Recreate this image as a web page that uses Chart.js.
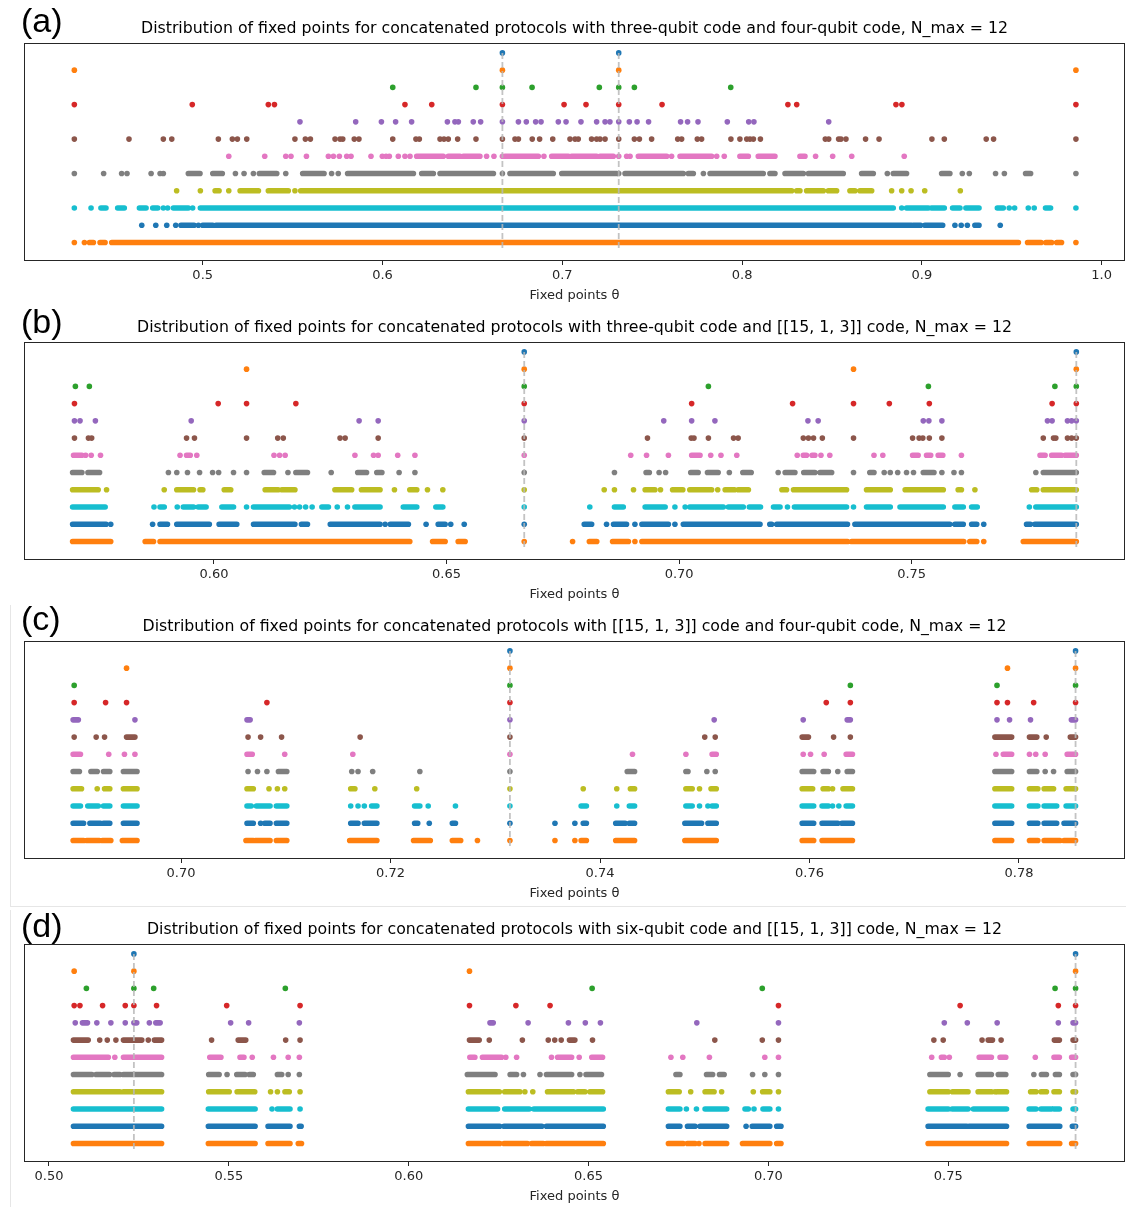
<!DOCTYPE html>
<html>
<head>
<meta charset="utf-8">
<script src="https://cdn.jsdelivr.net/npm/chart.js@4.4.0/dist/chart.umd.min.js"></script>
<style>
  body { margin: 0; background: #fff; width: 1126px; height: 1207px; position: relative; overflow: hidden; }
  canvas { position: absolute; left: 0; }
  .edge { position: absolute; background: #e6e6e6; }
</style>
</head>
<body>
<div class="edge" style="left:1126px; top:0; width:1px; height:907px"></div>
<div class="edge" style="left:10px; top:906px; width:1117px; height:1px"></div>
<div class="edge" style="left:10px; top:605px; width:1px; height:302px"></div>
<div class="edge" style="left:10px; top:910px; width:1px; height:297px"></div>
<canvas id="chart-a" width="1126" height="306" style="top:0px"></canvas>
<canvas id="chart-b" width="1126" height="306" style="top:299px"></canvas>
<canvas id="chart-c" width="1126" height="306" style="top:598px"></canvas>
<canvas id="chart-d" width="1126" height="306" style="top:901px"></canvas>
<script>
// tab10 colours, one per level N = 1..12 (top row is N = 1)
const levelColors = ["#1f77b4", "#ff7f0e", "#2ca02c", "#d62728", "#9467bd", "#8c564b",
  "#e377c2", "#7f7f7f", "#bcbd22", "#17becf", "#1f77b4", "#ff7f0e"];

const titles = [
  "Distribution of fixed points for concatenated protocols with three-qubit code and four-qubit code, N_max = 12",
  "Distribution of fixed points for concatenated protocols with three-qubit code and [[15, 1, 3]] code, N_max = 12",
  "Distribution of fixed points for concatenated protocols with [[15, 1, 3]] code and four-qubit code, N_max = 12",
  "Distribution of fixed points for concatenated protocols with six-qubit code and [[15, 1, 3]] code, N_max = 12",
];
const tags = ["(a)", "(b)", "(c)", "(d)"];

const xTicksA = [0.5, 0.6, 0.7, 0.8, 0.9, 1.0];
const xTicksB = [0.60, 0.65, 0.70, 0.75];
const xTicksC = [0.70, 0.72, 0.74, 0.76, 0.78];
const xTicksD = [0.50, 0.55, 0.60, 0.65, 0.70, 0.75];

// fixed points of the single codes (dashed lines)
const codeLinesA = [0.6667, 0.7314];
const codeLinesB = [0.6667, 0.7854];
const codeLinesC = [0.7314, 0.7854];
const codeLinesD = [0.5236, 0.7854];

// one list per level; a number is a single fixed point, [a, b] is a run of points too dense to separate
const rowsA = [
  [0.6667, 0.7314],
  [0.4286, 0.6667, 0.7314, 0.9857],
  [0.6057, 0.652, 0.6667, 0.6832, 0.7206, 0.7314, 0.7401, 0.7937],
  [0.4286, 0.4942, 0.5365, 0.5399, 0.6125, 0.6274, 0.6667, 0.701, 0.7132, 0.7314, 0.7555, 0.8255, 0.8304, 0.8856, 0.8889, 0.9857],
  [0.5541, 0.5851, 0.5994, 0.6073, 0.6162, 0.6361, 0.6403, 0.6422, 0.6505, 0.6546, 0.6667, 0.6756, 0.68, 0.6852, 0.6882, 0.6978,
    0.7021, 0.7104, 0.7191, 0.7238, 0.7265, 0.7314, 0.7373, 0.7416, 0.748, 0.7658, 0.7697, 0.7755, 0.7918, 0.8037, 0.8066, 0.8482],
  [0.4286, 0.459, 0.4781, 0.4828, 0.5087, 0.5165, 0.5193, 0.5245, 0.5513, 0.5571, 0.5599, 0.5736, 0.5764, 0.5779, 0.5843, 0.5869,
    0.6057, 0.6186, 0.6205, 0.632, 0.6342, 0.6366, 0.6418, 0.652, 0.6667, 0.6737, 0.6756, 0.6833, 0.6874, 0.6947, 0.7043, 0.7071,
    0.7089, 0.7163, 0.7191, 0.721, 0.7238, 0.7314, 0.7401, 0.7429, 0.7497, 0.7642, 0.7664, 0.7751, 0.7775, 0.7938, 0.7988, 0.8026,
    0.8044, 0.8063, 0.8102, 0.8463, 0.8482, 0.8537, 0.855, 0.8578, 0.8687, 0.8762, 0.9056, 0.9125, 0.9358, 0.9399, 0.9857],
  [0.5145, 0.5345, 0.5462, 0.5491, 0.5577, 0.5699, 0.5727, 0.576, 0.5801, 0.5825, 0.5936, 0.5999, 0.602, 0.6038, 0.6088, 0.6125,
    0.6153, [0.619, 0.6338], [0.6366, 0.6431], [0.645, 0.6542], 0.6579, 0.662, 0.6667, [0.6681, 0.6867], 0.6898, [0.6941, 0.7034],
    [0.7052, 0.7191], [0.721, 0.7284], 0.7314, 0.7358, 0.7377, [0.7423, 0.7581], 0.7608, [0.7655, 0.7831], 0.7859, 0.7901,
    [0.7988, 0.8035], [0.809, 0.8183], [0.8322, 0.835], 0.8409, 0.8504, 0.861, 0.8902],
  [0.4286, 0.4449, 0.4549, 0.4579, 0.4713, 0.4763, 0.4781, [0.492, 0.4985], [0.5056, 0.5109], 0.5182, 0.523, 0.5282,
    [0.5315, 0.5412], 0.5462, [0.5556, 0.5675], 0.5717, 0.5754, [0.5806, 0.6172], [0.6218, 0.6283], [0.632, 0.6617], 0.6667,
    [0.6709, 0.695], [0.6997, 0.7302], 0.7314, [0.7349, 0.7673], [0.7701, 0.7729], 0.7785, [0.7822, 0.8118], [0.8155, 0.8183],
    [0.8239, 0.8341], [0.8369, 0.8563], [0.8665, 0.873], 0.8808, [0.8841, 0.8915], [0.911, 0.9156], 0.9225, 0.9264, 0.941,
    0.9459, [0.9577, 0.9605], 0.9857],
  [0.4855, 0.4987, [0.5069, 0.5091], 0.5145, [0.5208, 0.531], [0.5365, 0.5476], 0.5513, [0.5545, 0.8276], [0.8304, 0.8322],
    [0.8359, 0.8452], [0.848, 0.8526], [0.86, 0.8628], [0.8656, 0.8721], 0.8832, 0.8888, 0.894, 0.9016, 0.9214],
  [0.4286, 0.4379, [0.4434, 0.4462], [0.4527, 0.4564], [0.4648, 0.4685], [0.4722, 0.475], 0.4781, 0.4805, [0.4837, 0.492],
    0.4944, [0.4987, 0.8841], 0.8888, [0.8915, 0.9036], [0.9054, 0.9125], [0.9171, 0.9212], [0.9245, 0.9318], [0.942, 0.9453],
    0.9486, 0.9516, 0.9592, 0.9625, [0.9688, 0.9716], 0.9857],
  [0.4661, 0.4739, 0.48, 0.485, [0.4879, 0.4952], 0.4976, [0.5, 0.5056], [0.5074, 0.8943], [0.8952, 0.8993], [0.9017, 0.9116],
    0.9184, 0.9219, 0.9253, [0.9295, 0.9318], 0.9436],
  [0.4286, 0.4342, [0.437, 0.4392], [0.4429, 0.4457], [0.4494, 0.9537], [0.9588, 0.9663], [0.969, 0.9722], [0.975, 0.9777], 0.9857],
];

const rowsB = [
  [0.6667, 0.7854],
  [0.607, 0.6667, 0.7375, 0.7854],
  [0.5702, 0.5732, 0.6667, 0.7063, 0.7536, 0.7808, 0.7854],
  [0.57, 0.6009, 0.607, 0.6176, 0.6667, 0.7027, 0.7244, 0.7375, 0.7452, 0.7538, 0.7802, 0.7854],
  [0.57, 0.5712, 0.5745, 0.5951, 0.6312, 0.6353, 0.6667, 0.6967, 0.7027, 0.7077, 0.7277, 0.7299, 0.7525, 0.7537, 0.7565,
    0.7792, 0.7802, 0.7835, 0.7844, 0.7854],
  [0.57, 0.573, 0.5737, 0.5941, 0.5958, 0.607, 0.6137, 0.6149, 0.6271, 0.6282, 0.6353, 0.6667, 0.6932, 0.7026, 0.7032, 0.7063,
    0.7117, 0.7127, 0.7267, 0.7278, 0.7289, 0.7308, 0.7375, 0.7502, 0.7516, 0.7524, 0.7538, 0.7565, 0.7783, 0.7805, 0.781,
    0.7835, 0.7844, 0.7854],
  [[0.5698, 0.5716], 0.5724, 0.5736, 0.5756, 0.5927, [0.5941, 0.5949], 0.5963, 0.6129, 0.6141, 0.6153, 0.6303, 0.6343, 0.6353,
    0.6395, 0.6432, 0.6667, 0.6896, 0.693, 0.6977, [0.7027, 0.7045], 0.7068, 0.709, 0.7124, 0.7254, [0.7267, 0.7274],
    [0.7286, 0.7292], 0.7305, 0.7324, 0.7419, 0.7438, [0.7502, 0.7514], [0.7532, 0.7541], [0.7557, 0.7567], 0.7607,
    [0.7776, 0.7787], [0.7801, 0.7822], [0.783, 0.7854]],
  [[0.5696, 0.5716], [0.5729, 0.5754], 0.5902, 0.592, 0.5943, 0.5969, 0.5997, 0.601, 0.6042, 0.607, [0.6108, 0.6128], 0.6159,
    [0.6176, 0.6201], 0.6252, [0.6309, 0.6328], [0.635, 0.6361], 0.6398, 0.6432, 0.6667, 0.6861, [0.6929, 0.6936], 0.6957,
    0.6971, [0.7025, 0.7041], [0.7061, 0.7084], 0.7108, [0.7137, 0.7155], 0.7213, [0.7228, 0.7249], [0.7268, 0.7292],
    [0.7303, 0.7328], 0.7375, [0.741, 0.7419], 0.7441, 0.7454, 0.747, 0.7489, 0.7504, [0.7525, 0.7548], 0.7565, 0.7591,
    0.7607, 0.7767, [0.7783, 0.7854]],
  [[0.5696, 0.5751], 0.5769, 0.5893, [0.592, 0.5956], [0.597, 0.5976], [0.6022, 0.6036], [0.611, 0.6138], [0.6146, 0.6174],
    [0.626, 0.6296], [0.6317, 0.6357], 0.6388, [0.6421, 0.6436], 0.6459, 0.6492, 0.6667, 0.6839, 0.6861, 0.6902,
    [0.6927, 0.6948], 0.696, [0.6986, 0.7008], [0.7023, 0.707], 0.7083, [0.7099, 0.7119], [0.7127, 0.7149], [0.7221, 0.7231],
    [0.7246, 0.736], [0.7403, 0.7454], [0.7486, 0.7568], [0.76, 0.7607], 0.7636, [0.7758, 0.7769], [0.7783, 0.7854]],
  [[0.5696, 0.5766], 0.5871, [0.5884, 0.5893], 0.5921, [0.5934, 0.5956], [0.5966, 0.5983], [0.6017, 0.6042], 0.607,
    [0.6085, 0.6162], 0.6173, 0.6184, 0.6197, 0.6211, [0.6232, 0.6246], 0.6265, 0.6287, [0.6303, 0.6357], [0.6407, 0.6436],
    [0.6477, 0.6492], 0.6667, 0.6808, [0.6861, 0.688], [0.6927, 0.697], 0.6991, 0.7013, [0.7023, 0.7095], [0.7106, 0.7138],
    [0.7151, 0.7175], [0.7203, 0.7217], 0.7233, [0.7248, 0.736], 0.7375, [0.7403, 0.7454], [0.7475, 0.7568], [0.7593, 0.7611],
    [0.7629, 0.7641], 0.7753, [0.7767, 0.7854]],
  [[0.5696, 0.5768], 0.5778, 0.5868, [0.5884, 0.59], [0.592, 0.599], [0.6011, 0.6049], [0.6085, 0.6174], [0.6188, 0.6201],
    [0.625, 0.6357], 0.6368, [0.6379, 0.6418], 0.6456, [0.6482, 0.6497], 0.6509, 0.6538, 0.6667, [0.6796, 0.6812], 0.6844,
    [0.6859, 0.6887], 0.6905, [0.692, 0.6977], 0.6991, [0.7009, 0.7174], [0.7195, 0.7199], [0.721, 0.7362], [0.7378, 0.7582],
    [0.7593, 0.7611], [0.7629, 0.764], 0.7655, [0.7747, 0.7755], [0.7765, 0.7854]],
  [[0.5696, 0.5778], [0.5852, 0.587], [0.5884, 0.6421], [0.647, 0.6497], [0.6525, 0.654], 0.6667, 0.6771, [0.6807, 0.6823],
    [0.6857, 0.6891], 0.6905, [0.692, 0.7362], [0.7371, 0.7612], [0.7625, 0.764], 0.7655, [0.774, 0.7854]],
];

const rowsC = [
  [0.7314, 0.7854],
  [0.6948, 0.7314, 0.7789, 0.7854],
  [0.6898, 0.7314, 0.7639, 0.7779, 0.7854],
  [0.6898, 0.6928, 0.6948, 0.7082, 0.7314, 0.7616, 0.7639, 0.7779, 0.7789, 0.7814, 0.7854],
  [[0.6897, 0.6902], 0.6956, [0.7063, 0.7066], 0.7314, 0.7509, 0.7594, [0.7636, 0.7639], 0.7779, 0.7791, 0.7811, [0.785, 0.7854]],
  [0.6898, 0.6919, 0.6927, [0.6948, 0.6956], 0.7064, 0.7076, 0.7096, 0.7171, 0.7314, 0.75, 0.751, [0.7593, 0.7599], 0.7623,
    0.7639, [0.7777, 0.7793], [0.781, 0.7817], 0.7826, [0.7849, 0.7854]],
  [[0.6897, 0.6904], 0.6931, 0.6946, 0.6956, [0.7063, 0.7068], 0.7099, 0.7164, 0.7314, 0.7431, 0.7482, [0.7507, 0.7511], 0.7594,
    0.7601, 0.7614, [0.7635, 0.7641], 0.7778, [0.7785, 0.7793], 0.781, 0.7816, 0.7825, [0.7846, 0.7854]],
  [[0.6897, 0.6903], [0.6914, 0.692], [0.6926, 0.6932], [0.6945, 0.6958], 0.7064, 0.7073, 0.7082, [0.7093, 0.7101], 0.7163,
    0.7169, 0.7183, 0.7228, 0.7314, [0.7426, 0.7433], [0.7482, 0.7484], 0.7502, 0.751, [0.7593, 0.7604], [0.7613, 0.7618],
    0.7627, [0.7636, 0.7641], [0.7777, 0.7793], [0.781, 0.7817], 0.7825, 0.7833, [0.7846, 0.7854]],
  [[0.6897, 0.6905], 0.692, [0.6927, 0.6932], [0.6945, 0.6958], [0.7063, 0.7069], 0.7084, 0.7092, 0.7099, [0.7162, 0.7166],
    0.7185, 0.7225, 0.7314, 0.7384, 0.7416, [0.7429, 0.7433], [0.7482, 0.7488], 0.7495, [0.7506, 0.7511], [0.7593, 0.7603],
    [0.7613, 0.7618], 0.7622, [0.7632, 0.7641], [0.7777, 0.7793], [0.781, 0.7818], [0.7824, 0.7833], [0.7845, 0.7854]],
  [[0.6897, 0.6904], [0.6911, 0.6921], [0.6926, 0.6932], [0.6945, 0.6958], [0.7063, 0.7067], [0.7072, 0.7085], [0.7091, 0.7101],
    0.7162, 0.7169, 0.7175, [0.7182, 0.7187], [0.7223, 0.7228], 0.7236, 0.7262, 0.7314, [0.7382, 0.7387], 0.7416,
    [0.7428, 0.7433], [0.7482, 0.7488], 0.7495, 0.7503, [0.7507, 0.7511], [0.7593, 0.7604], [0.7612, 0.7618], 0.7622, 0.7628,
    [0.7635, 0.7641], [0.7777, 0.7793], [0.781, 0.7818], [0.7824, 0.7836], [0.7845, 0.7854]],
  [[0.6897, 0.6907], [0.6913, 0.6923], [0.6926, 0.6932], [0.6945, 0.6958], [0.7063, 0.7069], 0.7076, [0.708, 0.7085],
    [0.7091, 0.7101], [0.7162, 0.7169], [0.7175, 0.7187], [0.7223, 0.7226], 0.7237, [0.7259, 0.7262], 0.7314, 0.7357, 0.7376,
    [0.7384, 0.7387], [0.7415, 0.7424], [0.7428, 0.7433], [0.7481, 0.7497], [0.7503, 0.7511], [0.7593, 0.7604],
    [0.7612, 0.7627], [0.7631, 0.7641], [0.7777, 0.7793], [0.781, 0.7818], [0.7824, 0.7836], [0.7843, 0.7854]],
  [[0.6897, 0.6907], [0.691, 0.6922], [0.6925, 0.6933], [0.6944, 0.6958], [0.7062, 0.7069], [0.7071, 0.7085], [0.7091, 0.7101],
    [0.7161, 0.7187], [0.7222, 0.7238], [0.7259, 0.7267], 0.7283, 0.7314, 0.7357, 0.7376, [0.7382, 0.7387], [0.7415, 0.7433],
    [0.7481, 0.7511], [0.7593, 0.7604], [0.7612, 0.7641], [0.7777, 0.7793], [0.781, 0.7818], [0.7824, 0.7839], [0.7843, 0.7854]],
];

const rowsD = [
  [0.5236, 0.7854],
  [0.507, 0.5236, 0.6169, 0.7854],
  [0.5104, 0.5236, 0.5291, 0.5657, 0.651, 0.6983, 0.7797, 0.7854],
  [0.507, 0.5086, 0.5149, 0.5212, 0.5236, 0.5299, 0.5494, 0.5698, 0.6169, 0.6298, 0.6393, 0.7028, 0.7533, 0.7806, 0.7854],
  [0.5073, [0.5093, 0.5107], 0.5133, 0.5172, 0.5212, [0.5236, 0.5244], 0.5279, [0.5297, 0.5309], 0.5505, 0.5555, 0.5696,
    [0.6226, 0.6235], 0.6332, 0.6444, 0.6491, 0.6533, 0.6801, 0.7028, 0.7489, 0.7553, 0.7636, 0.7806, [0.7847, 0.7854]],
  [[0.5068, 0.5109], 0.5141, 0.5162, 0.5186, [0.5207, 0.5258], 0.5276, [0.5293, 0.5313], 0.5452, [0.5526, 0.5547], 0.5658,
    0.5698, [0.6169, 0.6196], 0.6224, 0.6316, 0.6388, 0.6406, 0.6424, [0.6447, 0.6462], 0.6511, 0.6851, 0.6983, 0.7028, 0.746,
    0.7486, 0.7594, [0.7611, 0.7623], 0.7647, [0.7795, 0.7809], [0.7847, 0.7854]],
  [[0.5068, 0.5165], 0.5183, [0.5207, 0.5313], [0.5447, 0.5478], [0.5531, 0.5542], 0.5565, 0.5624, 0.5665, 0.5696,
    [0.617, 0.6184], [0.6205, 0.6258], 0.627, 0.63, 0.6397, [0.6414, 0.6453], 0.6474, [0.6509, 0.6539], 0.6729, 0.6762, 0.6836,
    0.699, 0.7028, 0.7454, [0.7481, 0.7489], 0.7503, [0.7586, 0.762], [0.7644, 0.766], 0.7742, [0.7794, 0.7809], [0.7843, 0.7854]],
  [[0.5068, 0.5119], [0.5131, 0.5168], [0.5181, 0.5197], [0.5207, 0.5313], [0.5444, 0.5473], 0.5495, [0.5522, 0.5545],
    [0.5557, 0.5568], [0.5635, 0.5647], 0.5665, 0.5696, [0.6163, 0.624], [0.6282, 0.63], 0.6319, 0.6365, [0.6383, 0.6453],
    0.6476, [0.6493, 0.6536], [0.6743, 0.6754], [0.6828, 0.6845], [0.6864, 0.6877], 0.6956, 0.699, 0.7028, [0.7449, 0.75],
    0.7533, [0.7583, 0.762], [0.7639, 0.766], 0.7738, [0.7759, 0.7773], [0.7798, 0.7809], [0.7847, 0.7854]],
  [[0.5068, 0.5197], [0.5207, 0.5313], [0.5444, 0.5501], [0.5523, 0.5572], 0.5616, 0.5635, [0.5656, 0.5668], 0.5698,
    [0.6166, 0.6252], [0.6267, 0.6309], 0.6323, 0.6345, [0.6386, 0.6458], [0.647, 0.649], [0.6504, 0.6539], [0.6722, 0.6752],
    0.6784, [0.6824, 0.6849], 0.687, 0.6958, [0.6984, 0.7004], 0.7028, [0.7449, 0.75], [0.7512, 0.7555], [0.7583, 0.762], 0.763,
    [0.7636, 0.7662], [0.7729, 0.7744], [0.7758, 0.7773], [0.7794, 0.7809], [0.7847, 0.7854]],
  [[0.5068, 0.5313], [0.5443, 0.5573], 0.562, [0.5635, 0.567], 0.5698, [0.6166, 0.6247], [0.6267, 0.6335], [0.6348, 0.6541],
    [0.6722, 0.6754], 0.6772, 0.68, [0.6824, 0.6884], [0.6935, 0.6944], 0.696, [0.6985, 0.7004], 0.7028, [0.7444, 0.75],
    [0.7511, 0.7555], [0.757, 0.7662], [0.7725, 0.7744], [0.7758, 0.7787], [0.7794, 0.7809], [0.7847, 0.7854]],
  [[0.5068, 0.5313], [0.5443, 0.5573], [0.5609, 0.567], [0.5696, 0.5701], [0.6166, 0.6253], [0.6265, 0.637], [0.6383, 0.6541],
    [0.6722, 0.6754], [0.6775, 0.6796], [0.681, 0.6884], 0.6938, [0.6955, 0.7004], [0.7023, 0.7035], [0.7444, 0.7551],
    [0.7558, 0.7662], [0.7725, 0.781], [0.7845, 0.7854]],
  [[0.5068, 0.5313], [0.5443, 0.5573], [0.5609, 0.567], [0.5693, 0.5702], [0.6166, 0.6253], [0.6265, 0.633], [0.6342, 0.6374],
    [0.6383, 0.6541], [0.6722, 0.6763], [0.6775, 0.6796], 0.6807, [0.6824, 0.6884], [0.6928, 0.7004], [0.7023, 0.7035],
    [0.7444, 0.7662], [0.7725, 0.781], [0.7843, 0.7854]],
];

const FONT = "'DejaVu Sans', sans-serif";

// frame, title and (a)/(b)... tag
const panelDecor = {
  id: "panelDecor",
  afterDraw(chart, args, opts) {
    const { ctx, chartArea: a } = chart;
    ctx.save();
    ctx.strokeStyle = "#262626";
    ctx.lineWidth = 1;
    ctx.strokeRect(a.left + 0.5, a.top + 0.5, a.right - a.left - 1, a.bottom - a.top - 1);
    ctx.fillStyle = "#000";
    ctx.textBaseline = "middle";
    ctx.textAlign = "center";
    ctx.font = "15.75px " + FONT;
    ctx.fillText(opts.title, (a.left + a.right) / 2, a.top - 14);
    ctx.textAlign = "left";
    ctx.font = "34px 'Liberation Sans', Arial, sans-serif";
    ctx.fillText(opts.tag, 21, a.top - opts.tagOffset);
    ctx.restore();
  },
};

function buildDatasets(rows, codeLines) {
  const sets = [];
  codeLines.forEach((x) => {
    sets.push({
      type: "line",
      data: [{ x: x, y: 1 }, { x: x, y: 12.5 }],
      borderColor: "rgba(185,185,185,0.85)",
      borderWidth: 1.8,
      borderDash: [6, 3],
      pointRadius: 0,
      order: 0,
    });
  });
  rows.forEach((row, i) => {
    const level = i + 1;
    const color = levelColors[i];
    const points = row.filter((v) => typeof v === "number").map((v) => ({ x: v, y: level }));
    const runs = [];
    row.filter((v) => Array.isArray(v)).forEach((r) => {
      runs.push({ x: r[0], y: level }, { x: r[1], y: level }, { x: r[1], y: null });
    });
    sets.push({
      type: "scatter",
      data: points,
      backgroundColor: color,
      borderWidth: 0,
      pointRadius: 2.8,
      order: 1,
    });
    sets.push({
      type: "line",
      data: runs,
      borderColor: color,
      borderWidth: 5.6,
      borderCapStyle: "round",
      pointRadius: 0,
      spanGaps: false,
      fill: false,
      order: 1,
    });
  });
  return sets;
}

function drawPanel(id, rows, codeLines, ticks, digits, xMin, xMax, idx, tagOffset) {
  const ctx = document.getElementById(id).getContext("2d");
  return new Chart(ctx, {
    type: "scatter",
    data: { datasets: buildDatasets(rows, codeLines) },
    plugins: [panelDecor],
    options: {
      responsive: false,
      animation: false,
      events: [],
      layout: { autoPadding: false, padding: { top: 43, left: 24, right: 1, bottom: 0 } },
      plugins: {
        legend: { display: false },
        tooltip: { enabled: false },
        panelDecor: { title: titles[idx], tag: tags[idx], tagOffset: tagOffset },
      },
      scales: {
        x: {
          type: "linear",
          min: xMin,
          max: xMax,
          afterBuildTicks: (scale) => {
            scale.ticks = ticks.map((v) => ({ value: v }));
          },
          afterFit: (scale) => {
            scale.height = 45;
          },
          grid: { drawOnChartArea: false, drawTicks: true, tickLength: 4, color: "#262626", lineWidth: 1 },
          border: { display: false },
          ticks: {
            padding: 3,
            color: "#262626",
            autoSkip: false,
            maxRotation: 0,
            font: { family: FONT, size: 13 },
            callback: (v) => Number(v).toFixed(digits),
          },
          title: {
            display: true,
            text: "Fixed points θ",
            color: "#262626",
            font: { family: FONT, size: 13 },
            padding: { top: 0, bottom: 3 },
          },
        },
        y: { display: false, min: 0.425, max: 13.075, reverse: true },
      },
    },
  });
}

document.addEventListener("DOMContentLoaded", function () {
  drawPanel("chart-a", rowsA, codeLinesA, xTicksA, 1, 0.4006, 1.013, 0, 20);
  drawPanel("chart-b", rowsB, codeLinesB, xTicksB, 2, 0.55915, 0.79587, 1, 18);
  drawPanel("chart-c", rowsC, codeLinesC, xTicksC, 2, 0.68501, 0.79012, 2, 20);
  drawPanel("chart-d", rowsD, codeLinesD, xTicksD, 2, 0.49305, 0.79914, 3, 16);
});
</script>
</body>
</html>
